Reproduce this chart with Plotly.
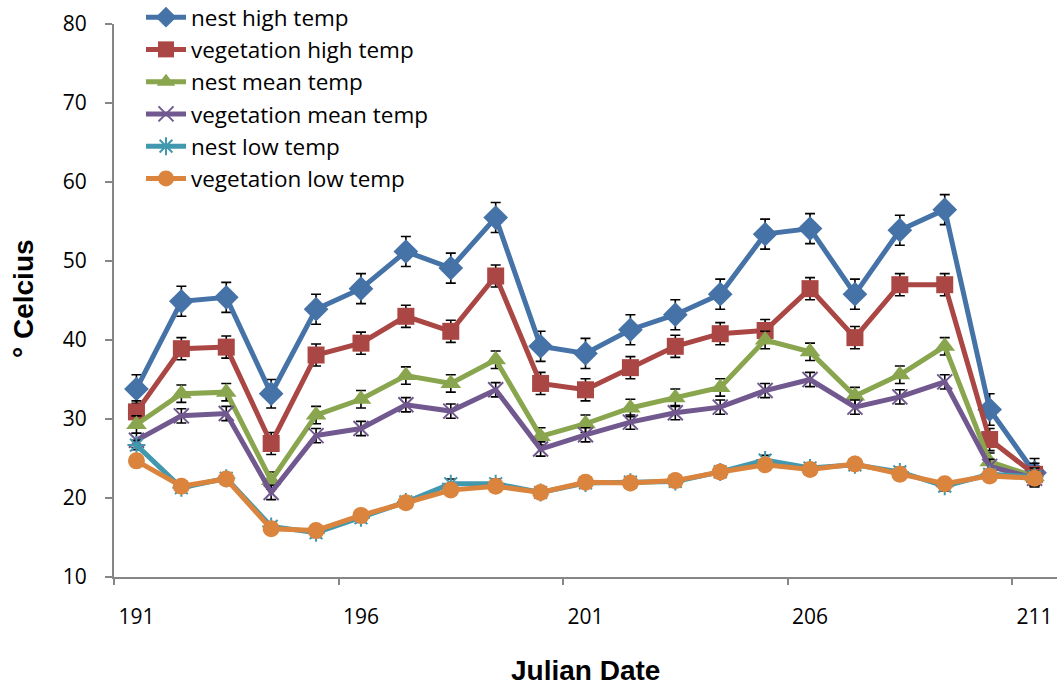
import plotly.graph_objects as go

days = list(range(191, 212))

nest_high = [33.8, 44.9, 45.4, 33.2, 43.9, 46.5, 51.2, 49.1, 55.5, 39.2, 38.3,
             41.3, 43.2, 45.8, 53.4, 54.1, 45.8, 53.9, 56.5, 31.2, 23.2]
veg_high = [30.9, 38.9, 39.1, 26.9, 38.1, 39.6, 43.0, 41.1, 48.1, 34.5, 33.7,
            36.5, 39.2, 40.8, 41.2, 46.5, 40.3, 47.0, 47.0, 27.4, 23.0]
nest_mean = [29.3, 33.2, 33.4, 22.2, 30.5, 32.5, 35.5, 34.5, 37.5, 27.8, 29.4,
             31.4, 32.7, 34.0, 40.0, 38.5, 32.9, 35.6, 39.2, 24.6, 22.7]
veg_mean = [27.3, 30.4, 30.7, 20.7, 27.9, 28.8, 31.8, 31.0, 33.7, 26.2, 28.0,
            29.6, 30.8, 31.5, 33.6, 35.0, 31.5, 32.8, 34.7, 24.0, 22.5]
nest_low = [26.7, 21.3, 22.5, 16.4, 15.6, 17.5, 19.5, 21.8, 21.8, 20.7, 21.9,
            22.0, 22.1, 23.3, 24.8, 23.8, 24.2, 23.3, 21.5, 23.0, 22.7]
veg_low = [24.7, 21.5, 22.4, 16.1, 15.9, 17.8, 19.4, 21.0, 21.5, 20.7, 22.0,
           21.9, 22.2, 23.3, 24.2, 23.6, 24.3, 23.0, 21.8, 22.8, 22.5]

err_nest_high = [1.8, 1.9, 1.9, 1.8, 1.9, 1.9, 1.9, 1.9, 1.9, 1.9, 1.9,
                 1.9, 1.9, 1.9, 1.9, 1.9, 1.9, 1.9, 1.9, 2.0, 1.8]
err_veg_high = [1.4] * 21
err_nest_mean = [1.1] * 21
err_veg_mean = [0.9] * 21
err_nest_low = [0.6] * 21
err_veg_low = [0.5] * 21

x_labels = [191, 196, 201, 206, 211]
x_ticks = [190.5, 195.5, 200.5, 205.5, 210.5]
y_ticks = [10, 20, 30, 40, 50, 60, 70, 80]

series = [
    ("nest high temp", nest_high, err_nest_high, "#4572A7", "diamond", 19, None),
    ("vegetation high temp", veg_high, err_veg_high, "#AA4643", "square", 17, None),
    ("nest mean temp", nest_mean, err_nest_mean, "#89A54E", "triangle-up", 18, None),
    ("vegetation mean temp", veg_mean, err_veg_mean, "#71588F", "x-thin-open", 15, 2),
    ("nest low temp", nest_low, err_nest_low, "#4198AF", "asterisk-open", 15, 2),
    ("vegetation low temp", veg_low, err_veg_low, "#DB843D", "circle", 17, None),
]

fig = go.Figure()
for name, vals, errs, color, sym, size, lw in series:
    marker = dict(symbol=sym, size=size, color=color)
    if lw:
        marker["line"] = dict(color=color, width=lw)
    else:
        marker["line"] = dict(width=0)
    fig.add_trace(go.Scatter(
        x=days, y=vals, name=name, mode="lines+markers",
        line=dict(color=color, width=5),
        marker=marker,
        error_y=dict(type="data", array=errs, visible=True,
                     color="black", thickness=1.6, width=5),
    ))

# invisible trace to host the tick-mark axis
fig.add_trace(go.Scatter(x=[190.5, 211.5], y=[10, 10], xaxis="x2",
                         mode="markers", marker=dict(opacity=0),
                         showlegend=False, hoverinfo="skip"))

axis_color = "#868686"
L, R, T, B = 114, 1, 24, 108
pw = 1058 - L - R
ph = 685 - T - B

fig.update_layout(
    width=1058, height=685,
    margin=dict(l=L, r=R, t=T, b=B, autoexpand=False),
    paper_bgcolor="white", plot_bgcolor="white",
    font=dict(family="Open Sans, Lato, sans-serif", size=21, color="black"),
    showlegend=True,
    legend=dict(x=(141 - L) / pw, y=1 + 28 / ph, xanchor="left", yanchor="top",
                bgcolor="rgba(0,0,0,0)", font=dict(size=22.5),
                itemwidth=40, tracegroupgap=0),
    xaxis=dict(range=[190.5, 211.5], tickmode="array", tickvals=x_labels,
               ticktext=[str(v) for v in x_labels], ticks="",
               showline=True, linecolor=axis_color, linewidth=2,
               showgrid=False, zeroline=False, ticklabelstandoff=20,
               automargin=False),
    xaxis2=dict(range=[190.5, 211.5], overlaying="x", side="bottom",
                tickmode="array", tickvals=x_ticks, ticks="outside",
                ticklen=7, tickwidth=2, tickcolor=axis_color,
                showticklabels=False, showgrid=False, zeroline=False,
                showline=False, anchor="y", automargin=False),
    yaxis=dict(range=[10, 80], tickmode="array", tickvals=y_ticks,
               ticks="outside", ticklen=7, tickwidth=2, tickcolor=axis_color,
               showline=True, linecolor=axis_color, linewidth=2,
               showgrid=False, zeroline=False, ticklabelstandoff=14,
               automargin=False),
    annotations=[
        dict(text="<b>Julian Date</b>", xref="paper", yref="paper",
             x=(585 - L) / pw, y=(685 - B - 670) / ph,
             xanchor="center", yanchor="middle", showarrow=False,
             font=dict(family="Liberation Sans, Arial, sans-serif", size=28)),
        dict(text="<b>° Celcius</b>", xref="paper", yref="paper",
             x=(23 - L) / pw, y=(685 - B - 299) / ph,
             xanchor="center", yanchor="middle", showarrow=False,
             textangle=-90,
             font=dict(family="Liberation Sans, Arial, sans-serif", size=28)),
    ],
)

fig.write_html("out.html",
               config={"displayModeBar": False},
               post_script="document.body.style.margin='0px';"
                           "document.body.style.overflow='hidden';")
